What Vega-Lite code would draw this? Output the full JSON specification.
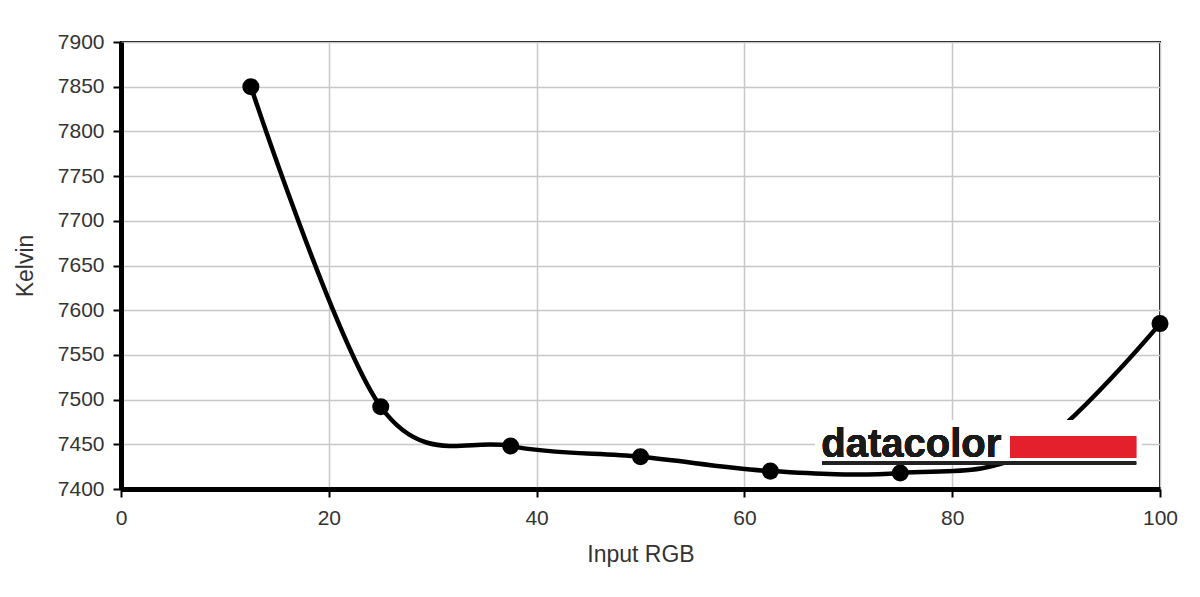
{
  "$schema": "https://vega.github.io/schema/vega-lite/v6.json",
  "width": 1039,
  "height": 447,
  "autosize": {"type": "none"},
  "padding": {"left": 121, "top": 42, "right": 40, "bottom": 108},
  "background": "white",
  "config": {
    "view": {"stroke": "#000", "strokeWidth": 2},
    "font": "Liberation Sans",
    "axis": {
      "labelFont": "Liberation Sans",
      "titleFont": "Liberation Sans",
      "labelFontSize": 21,
      "titleFontSize": 23,
      "labelColor": "#333",
      "titleColor": "#333",
      "titleFontWeight": "normal",
      "gridColor": "#c8c8c8",
      "gridWidth": 1.5,
      "domainColor": "#000",
      "domainWidth": 5,
      "tickColor": "#000",
      "tickWidth": 2,
      "tickSize": 8,
      "labelFlush": false,
      "format": "d"
    }
  },
  "data": {
    "values": [
      {"rgb": 12.5, "kelvin": 7850},
      {"rgb": 25, "kelvin": 7492},
      {"rgb": 37.5, "kelvin": 7448},
      {"rgb": 50, "kelvin": 7436},
      {"rgb": 62.5, "kelvin": 7420},
      {"rgb": 75, "kelvin": 7418},
      {"rgb": 87.5, "kelvin": 7442},
      {"rgb": 100, "kelvin": 7585}
    ]
  },
  "layer": [
    {
      "mark": {"type": "line", "color": "#000", "strokeWidth": 4.5, "interpolate": "cardinal", "tension": 0},
      "encoding": {
        "x": {
          "field": "rgb", "type": "quantitative",
          "scale": {"domain": [0, 100], "nice": false},
          "axis": {"values": [0, 20, 40, 60, 80, 100], "title": "Input RGB", "titlePadding": 15, "labelPadding": 10}
        },
        "y": {
          "field": "kelvin", "type": "quantitative",
          "scale": {"domain": [7400, 7900], "nice": false, "zero": false},
          "axis": {"values": [7400, 7450, 7500, 7550, 7600, 7650, 7700, 7750, 7800, 7850, 7900], "title": "Kelvin", "titlePadding": 20, "labelPadding": 9}
        }
      }
    },
    {
      "mark": {"type": "point", "filled": true, "color": "#000", "opacity": 1, "size": 290},
      "encoding": {
        "x": {"field": "rgb", "type": "quantitative"},
        "y": {"field": "kelvin", "type": "quantitative"}
      }
    },
    {
      "mark": {"type": "rect", "color": "white", "opacity": 1},
      "encoding": {
        "x": {"datum": 66.8},
        "x2": {"datum": 98.2},
        "y": {"datum": 7477},
        "y2": {"datum": 7429}
      }
    },
    {
      "mark": {"type": "rect", "color": "#e3202b", "opacity": 1},
      "encoding": {
        "x": {"datum": 85.6},
        "x2": {"datum": 97.7},
        "y": {"datum": 7459},
        "y2": {"datum": 7435}
      }
    },
    {
      "mark": {"type": "rule", "color": "#222", "strokeWidth": 3},
      "encoding": {
        "x": {"datum": 67.5},
        "x2": {"datum": 97.7},
        "y": {"datum": 7429}
      }
    },
    {
      "mark": {"type": "text", "text": "datacolor", "font": "Liberation Sans", "fontWeight": "bold", "fontSize": 40, "align": "left", "baseline": "alphabetic", "color": "#1a1a1a"},
      "encoding": {
        "x": {"datum": 67.4},
        "y": {"datum": 7436}
      }
    }
  ]
}
